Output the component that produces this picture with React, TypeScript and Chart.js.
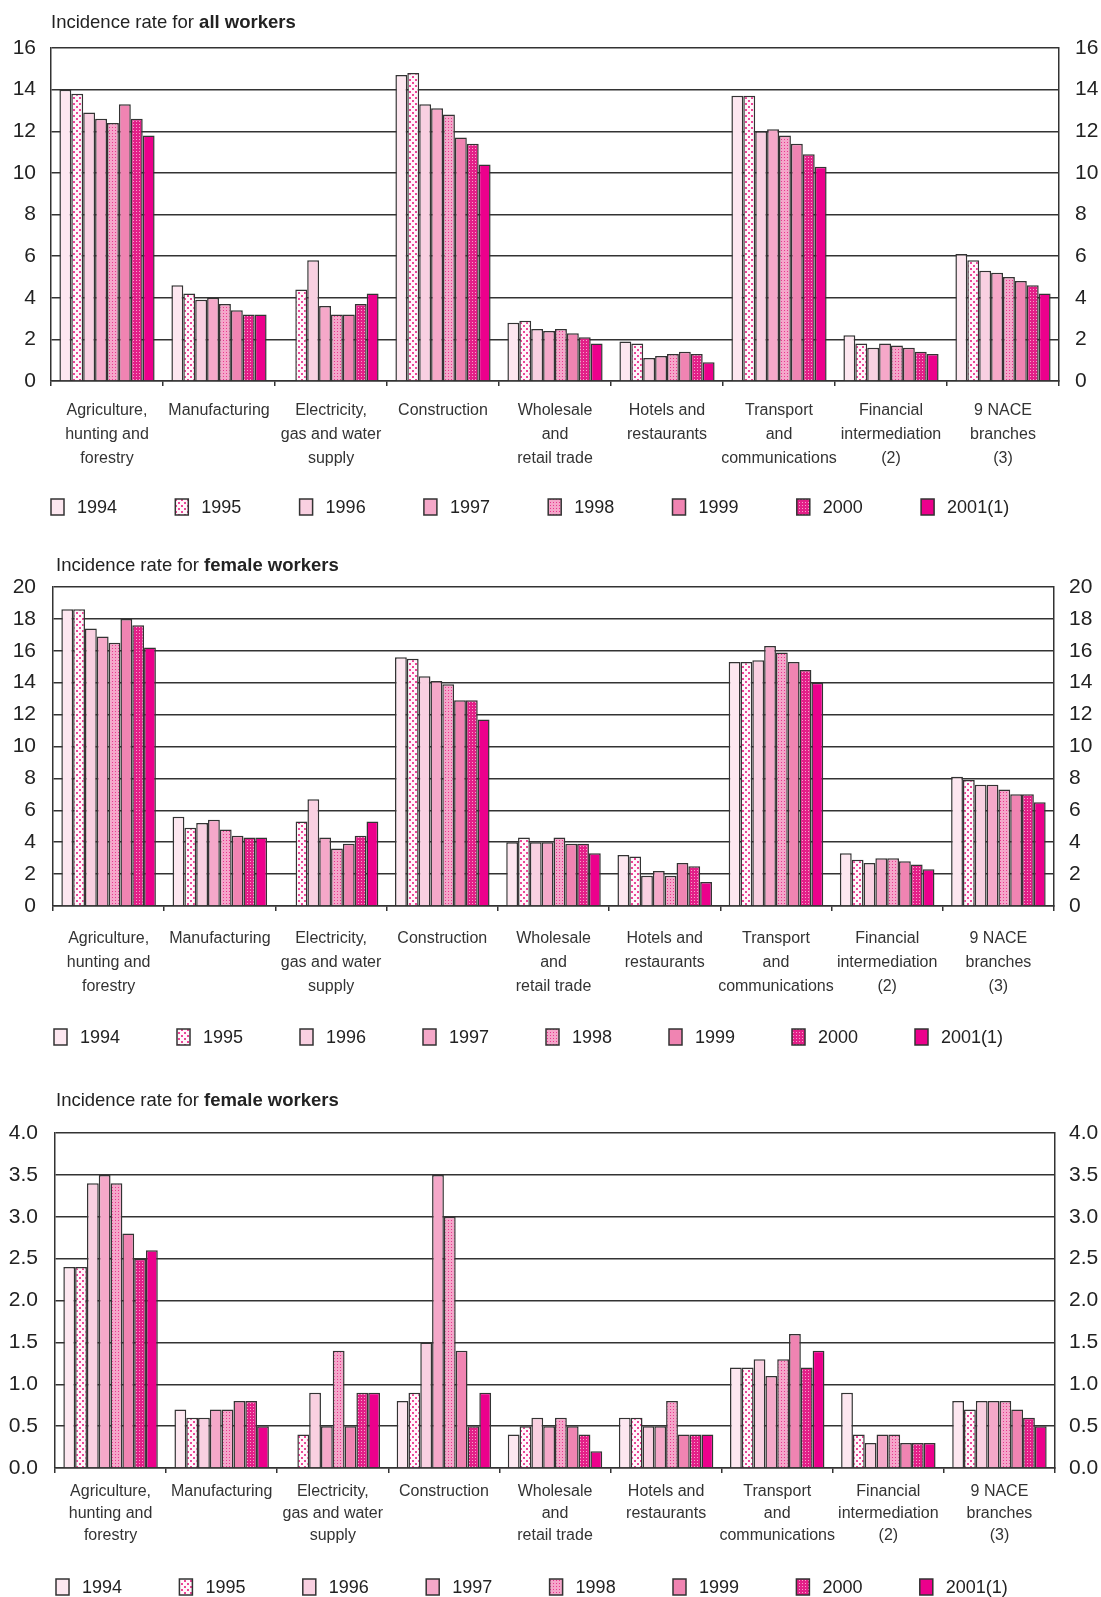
import React, { useEffect, useRef } from "react";
import { Chart, registerables } from "chart.js";

Chart.register(...registerables);

const FONT = '"Liberation Sans", Arial, Helvetica, sans-serif';

const categories: (string | string[])[] = [
  ["Agriculture,", "hunting and", "forestry"],
  "Manufacturing",
  ["Electricity,", "gas and water", "supply"],
  "Construction",
  ["Wholesale", "and", "retail trade"],
  ["Hotels and", "restaurants"],
  ["Transport", "and", "communications"],
  ["Financial", "intermediation", "(2)"],
  ["9 NACE", "branches", "(3)"],
];

const years = ["1994", "1995", "1996", "1997", "1998", "1999", "2000", "2001(1)"];

// rows = years (1994..2001), columns = categories
const allWorkers: (number | null)[][] = [
  [14.0, 4.6, null, 14.7, 2.8, 1.9, 13.7, 2.2, 6.1],
  [13.8, 4.2, 4.4, 14.8, 2.9, 1.8, 13.7, 1.8, 5.8],
  [12.9, 3.9, 5.8, 13.3, 2.5, 1.1, 12.0, 1.6, 5.3],
  [12.6, 4.0, 3.6, 13.1, 2.4, 1.2, 12.1, 1.8, 5.2],
  [12.4, 3.7, 3.2, 12.8, 2.5, 1.3, 11.8, 1.7, 5.0],
  [13.3, 3.4, 3.2, 11.7, 2.3, 1.4, 11.4, 1.6, 4.8],
  [12.6, 3.2, 3.7, 11.4, 2.1, 1.3, 10.9, 1.4, 4.6],
  [11.8, 3.2, 4.2, 10.4, 1.8, 0.9, 10.3, 1.3, 4.2],
];

const femaleWorkers: (number | null)[][] = [
  [18.6, 5.6, null, 15.6, 4.0, 3.2, 15.3, 3.3, 8.1],
  [18.6, 4.9, 5.3, 15.5, 4.3, 3.1, 15.3, 2.9, 7.9],
  [17.4, 5.2, 6.7, 14.4, 4.0, 1.9, 15.4, 2.7, 7.6],
  [16.9, 5.4, 4.3, 14.1, 4.0, 2.2, 16.3, 3.0, 7.6],
  [16.5, 4.8, 3.6, 13.9, 4.3, 1.9, 15.9, 3.0, 7.3],
  [18.0, 4.4, 3.9, 12.9, 3.9, 2.7, 15.3, 2.8, 7.0],
  [17.6, 4.3, 4.4, 12.9, 3.9, 2.5, 14.8, 2.6, 7.0],
  [16.2, 4.3, 5.3, 11.7, 3.3, 1.5, 14.0, 2.3, 6.5],
];

const femaleWorkersSmall: (number | null)[][] = [
  [2.4, 0.7, null, 0.8, 0.4, 0.6, 1.2, 0.9, 0.8],
  [2.4, 0.6, 0.4, 0.9, 0.5, 0.6, 1.2, 0.4, 0.7],
  [3.4, 0.6, 0.9, 1.5, 0.6, 0.5, 1.3, 0.3, 0.8],
  [3.5, 0.7, 0.5, 3.5, 0.5, 0.5, 1.1, 0.4, 0.8],
  [3.4, 0.7, 1.4, 3.0, 0.6, 0.8, 1.3, 0.4, 0.8],
  [2.8, 0.8, 0.5, 1.4, 0.5, 0.4, 1.6, 0.3, 0.7],
  [2.5, 0.8, 0.9, 0.5, 0.4, 0.4, 1.2, 0.3, 0.6],
  [2.6, 0.5, 0.9, 0.9, 0.2, 0.4, 1.4, 0.3, 0.5],
];

function makePattern(base: string, dot: string, size: number, dots: number[][], dotSize: number) {
  const c = document.createElement("canvas");
  c.width = size;
  c.height = size;
  const g = c.getContext("2d")!;
  g.fillStyle = base;
  g.fillRect(0, 0, size, size);
  g.fillStyle = dot;
  dots.forEach(([x, y]) => g.fillRect(x, y, dotSize, dotSize));
  return g.createPattern(c, "repeat") as CanvasPattern;
}

function makeFills() {
  return [
    "#fde7f0",
    makePattern("#fff6fa", "#ec4597", 6, [[1, 1], [4, 4]], 2),
    "#f9d0e1",
    "#f5a8c9",
    makePattern("#f5a6ca", "#e8388f", 3, [[1, 1]], 1),
    "#f084b2",
    makePattern("#e31f88", "#f7a3cb", 3, [[1, 1]], 1),
    "#ec008c",
  ];
}

const legendPlugin = {
  id: "customLegend",
  afterDraw(chart: any, _args: any, opts: any) {
    const ctx: CanvasRenderingContext2D = chart.ctx;
    chart.data.datasets.forEach((ds: any, i: number) => {
      const bx = opts.x0 + i * opts.step;
      const y = opts.y;
      ctx.save();
      ctx.fillStyle = ds.backgroundColor;
      ctx.fillRect(bx, y - 8, 13, 16);
      ctx.strokeStyle = "#333";
      ctx.lineWidth = 1.5;
      ctx.strokeRect(bx, y - 8, 13, 16);
      ctx.fillStyle = "#222";
      ctx.font = `18px ${FONT}`;
      ctx.textBaseline = "middle";
      ctx.textAlign = "left";
      ctx.fillText(ds.label, bx + 26, y + 1);
      ctx.restore();
    });
  },
};

type PanelSpec = {
  data: (number | null)[][];
  max: number;
  step: number;
  decimals: number;
  padTop: number;
  left: number;
  right: number;
  xHeight: number;
  xPad: number;
  xLine: number;
  ylPad: number;
  yrPad: number;
  legendX: number;
  legendStep: number;
  legendY: number;
};

function buildChart(canvas: HTMLCanvasElement, p: PanelSpec) {
  const fills = makeFills();
  const datasets = years.map((y, i) => ({
    label: y,
    data: p.data[i],
    backgroundColor: fills[i],
    borderColor: "#333",
    borderWidth: 1.5,
    categoryPercentage: 0.85,
    barPercentage: 1.0,
    yAxisID: "y",
  }));
  const tickFont = { family: FONT, size: 21 };
  const fmt = (v: any) => Number(v).toFixed(p.decimals);
  return new Chart(canvas, {
    type: "bar",
    data: { labels: categories as any, datasets: datasets as any },
    plugins: [legendPlugin as any],
    options: {
      responsive: false,
      animation: false,
      devicePixelRatio: 1,
      layout: { padding: { top: p.padTop, left: 0, right: 0, bottom: 0 } },
      plugins: {
        legend: { display: false },
        tooltip: { enabled: false },
        title: { display: false },
        customLegend: { x0: p.legendX, step: p.legendStep, y: p.legendY },
      } as any,
      scales: {
        x: {
          grid: {
            offset: true,
            drawOnChartArea: false,
            drawTicks: true,
            tickLength: 5,
            color: "#333",
            lineWidth: 1.5,
          },
          border: { display: true, color: "#333", width: 1.5 },
          ticks: {
            color: "#333",
            font: { family: FONT, size: 16, lineHeight: p.xLine },
            padding: p.xPad,
            maxRotation: 0,
            minRotation: 0,
            autoSkip: false,
          },
          afterFit: (s: any) => {
            s.height = p.xHeight;
          },
        },
        y: {
          position: "left",
          min: 0,
          max: p.max,
          ticks: { stepSize: p.step, padding: p.ylPad, color: "#222", font: tickFont, callback: fmt },
          grid: { color: "#333", lineWidth: 1.5, drawTicks: false },
          border: { display: true, color: "#333", width: 1.5 },
          afterFit: (s: any) => {
            s.width = p.left;
          },
        },
        y2: {
          position: "right",
          min: 0,
          max: p.max,
          ticks: { stepSize: p.step, padding: p.yrPad, color: "#222", font: tickFont, callback: fmt },
          grid: { drawOnChartArea: false, drawTicks: false },
          border: { display: true, color: "#333", width: 1.5 },
          afterFit: (s: any) => {
            s.width = 1101 - p.right;
          },
        },
      } as any,
    },
  });
}

const panel1: PanelSpec = {
  data: allWorkers, max: 16, step: 2, decimals: 0,
  padTop: 48, left: 51, right: 1059, xHeight: 149, xPad: 13, xLine: 1.5,
  ylPad: 15, yrPad: 16, legendX: 51, legendStep: 124.3, legendY: 507,
};
const panel2: PanelSpec = {
  data: femaleWorkers, max: 20, step: 2, decimals: 0,
  padTop: 57, left: 53, right: 1054, xHeight: 154, xPad: 16, xLine: 1.5,
  ylPad: 17, yrPad: 15, legendX: 54, legendStep: 123, legendY: 507,
};
const panel3: PanelSpec = {
  data: femaleWorkersSmall, max: 4, step: 0.5, decimals: 1,
  padTop: 73, left: 55, right: 1055, xHeight: 129, xPad: 7, xLine: 1.4,
  ylPad: 17, yrPad: 14, legendX: 56, legendStep: 123.4, legendY: 527,
};

const titleStyle = (top: number, left: number): React.CSSProperties => ({
  position: "absolute",
  top,
  left,
  height: 20,
  lineHeight: "20px",
  fontFamily: FONT,
  fontSize: 18.5,
  color: "#222",
  whiteSpace: "nowrap",
});

export default function App() {
  const r1 = useRef<HTMLCanvasElement>(null);
  const r2 = useRef<HTMLCanvasElement>(null);
  const r3 = useRef<HTMLCanvasElement>(null);

  useEffect(() => {
    const charts = [
      buildChart(r1.current!, panel1),
      buildChart(r2.current!, panel2),
      buildChart(r3.current!, panel3),
    ];
    return () => charts.forEach((c) => c.destroy());
  }, []);

  return (
    <div style={{ position: "absolute", left: 0, top: 0, width: 1101, height: 1597, background: "#fff" }}>
      <canvas ref={r1} width={1101} height={530} style={{ position: "absolute", left: 0, top: 0 }} />
      <canvas ref={r2} width={1101} height={530} style={{ position: "absolute", left: 0, top: 530 }} />
      <canvas ref={r3} width={1101} height={537} style={{ position: "absolute", left: 0, top: 1060 }} />
      <div style={titleStyle(12, 51)}>
        Incidence rate for <b>all workers</b>
      </div>
      <div style={titleStyle(555, 56)}>
        Incidence rate for <b>female workers</b>
      </div>
      <div style={titleStyle(1090, 56)}>
        Incidence rate for <b>female workers</b>
      </div>
    </div>
  );
}
